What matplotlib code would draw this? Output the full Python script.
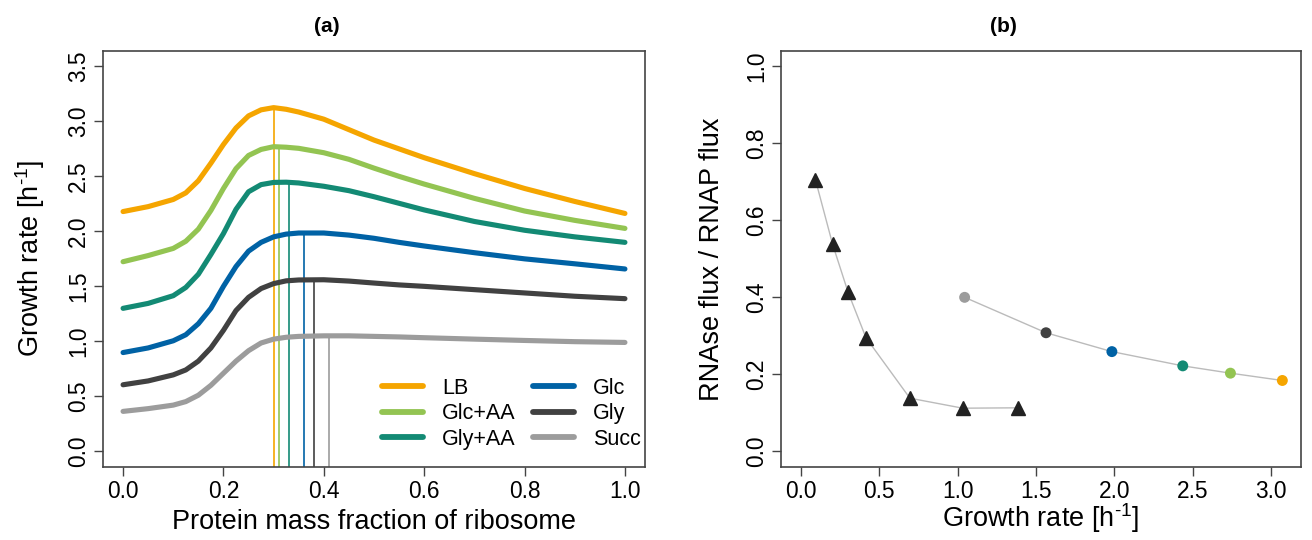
import numpy as np
import matplotlib
matplotlib.use("Agg")
import matplotlib.pyplot as plt
from matplotlib.lines import Line2D

plt.rcParams['font.family'] = ['Liberation Sans', 'DejaVu Sans']

# ---- panel (a): growth rate vs ribosome fraction
phi_r = [0.0, 0.05, 0.1, 0.125, 0.15, 0.175, 0.2, 0.225, 0.25, 0.275, 0.3,
         0.325, 0.35, 0.4, 0.45, 0.5, 0.55, 0.6, 0.7, 0.8, 0.9, 1.0]

media = ["LB", "Glc+AA", "Gly+AA", "Glc", "Gly", "Succ"]
colors = ["#F5A500", "#93C452", "#138A74", "#0062A5", "#414141", "#9C9C9C"]

growth = {
    "LB":     [2.18, 2.225, 2.29, 2.35, 2.46, 2.62, 2.79, 2.94, 3.05, 3.105, 3.125,
               3.11, 3.085, 3.02, 2.925, 2.83, 2.75, 2.67, 2.525, 2.39, 2.272, 2.163],
    "Glc+AA": [1.724, 1.78, 1.845, 1.91, 2.02, 2.19, 2.39, 2.57, 2.69, 2.745, 2.77,
               2.765, 2.755, 2.715, 2.655, 2.575, 2.50, 2.43, 2.30, 2.185, 2.10, 2.027],
    "Gly+AA": [1.30, 1.345, 1.415, 1.49, 1.61, 1.79, 1.98, 2.20, 2.36, 2.425, 2.445,
               2.447, 2.44, 2.41, 2.37, 2.315, 2.255, 2.195, 2.09, 2.01, 1.95, 1.90],
    "Glc":    [0.898, 0.94, 1.005, 1.06, 1.16, 1.30, 1.50, 1.68, 1.82, 1.90, 1.95,
               1.975, 1.985, 1.985, 1.966, 1.937, 1.90, 1.867, 1.806, 1.75, 1.705, 1.658],
    "Gly":    [0.605, 0.64, 0.695, 0.74, 0.82, 0.94, 1.10, 1.28, 1.40, 1.48, 1.525,
               1.55, 1.558, 1.56, 1.548, 1.53, 1.513, 1.50, 1.47, 1.44, 1.41, 1.388],
    "Succ":   [0.363, 0.388, 0.42, 0.452, 0.51, 0.60, 0.71, 0.82, 0.915, 0.985, 1.02,
               1.037, 1.045, 1.05, 1.05, 1.045, 1.04, 1.033, 1.02, 1.008, 0.997, 0.99],
}

# optimal ribosome fraction and the max growth reached there
phi_opt = [0.30, 0.31, 0.33, 0.36, 0.38, 0.41]
mu_max = [3.125, 2.77, 2.447, 1.987, 1.56, 1.05]

# ---- panel (b): RNAse flux / RNAP flux vs growth rate
tri_mu = [0.094, 0.203, 0.302, 0.416, 0.696, 1.033, 1.385]
tri_ratio = [0.705, 0.538, 0.413, 0.295, 0.138, 0.112, 0.113]

circ_mu = [1.045, 1.564, 1.984, 2.436, 2.74, 3.071]
circ_ratio = [0.400, 0.308, 0.259, 0.222, 0.203, 0.184]
circ_colors = ["#9C9C9C", "#414141", "#0062A5", "#138A74", "#93C452", "#F5A500"]

fs_tick = 16.4
fs_lab = 19.5
fs_leg = 15.5
frame_col = "#444444"
unit = "Growth rate [h$^{\\mathregular{\u20101}}$]"

W, H = 1312, 540
fig = plt.figure(figsize=(W / 100, H / 100), dpi=100)
# axes boxes in pixels: left, right, top, bottom
ax1 = fig.add_axes([103 / W, 1 - 466.7 / H, (645 - 103) / W, (466.7 - 51) / H])
ax2 = fig.add_axes([781 / W, 1 - 466.7 / H, (1301 - 781) / W, (466.7 - 51) / H])


def r_style(ax):
    for s in ax.spines.values():
        s.set_color(frame_col)
        s.set_linewidth(1.2)
    ax.tick_params(direction="out", length=6.5, width=1.0, color=frame_col,
                   labelsize=fs_tick, pad=3)
    for lab in ax.get_yticklabels():
        lab.set_rotation(90)
        lab.set_va("center")


# panel (a)
ylo = -0.14
for m, c, po, mm in zip(media, colors, phi_opt, mu_max):
    ax1.plot(phi_r, growth[m], color=c, lw=3.7, solid_capstyle="round",
             solid_joinstyle="round", zorder=3)
    ax1.vlines(po, ylo, mm, color=c, lw=1.2, zorder=2)

ax1.set_xlim(-0.04, 1.04)
ax1.set_ylim(ylo, 3.64)
ax1.set_xticks([0.0, 0.2, 0.4, 0.6, 0.8, 1.0])
ax1.set_xticklabels(["0.0", "0.2", "0.4", "0.6", "0.8", "1.0"])
ax1.set_yticks(np.arange(0, 3.51, 0.5))
ax1.set_yticklabels(["0.0", "0.5", "1.0", "1.5", "2.0", "2.5", "3.0", "3.5"])
r_style(ax1)
ax1.set_xlabel("Protein mass fraction of ribosome", fontsize=fs_lab, va="center")
ax1.xaxis.set_label_coords(0.5, (466.7 - 522) / 415.7)
ax1.set_ylabel(unit, fontsize=fs_lab, va="center")
ax1.yaxis.set_label_coords((30 - 103) / 542, 0.5)

handles = [Line2D([], [], color=c, lw=4.2, solid_capstyle="round") for c in colors]
ax1.legend(handles, media, ncol=2, loc="lower left", frameon=False,
           fontsize=fs_leg, handlelength=1.93, handletextpad=0.86,
           columnspacing=0.8, labelspacing=0.22, borderpad=0, borderaxespad=0,
           bbox_to_anchor=((381.7 - 103) / 542, (466.7 - 450) / 415.7))

# panel (b)
ax2.plot(tri_mu, tri_ratio, color="#BBBBBB", lw=1.0, zorder=1)
ax2.plot(tri_mu, tri_ratio, ls="none", marker="^", ms=9.5, color="#222222", zorder=2)
ax2.plot(circ_mu, circ_ratio, color="#BBBBBB", lw=1.0, zorder=1)
ax2.scatter(circ_mu, circ_ratio, s=62, c=circ_colors, edgecolors="none", zorder=2)

ax2.set_xlim(-0.126, 3.19)
ax2.set_ylim(-0.04, 1.04)
ax2.set_xticks(np.arange(0, 3.01, 0.5))
ax2.set_xticklabels(["0.0", "0.5", "1.0", "1.5", "2.0", "2.5", "3.0"])
ax2.set_yticks(np.arange(0, 1.01, 0.2))
ax2.set_yticklabels(["0.0", "0.2", "0.4", "0.6", "0.8", "1.0"])
r_style(ax2)
ax2.set_xlabel(unit, fontsize=fs_lab, va="center")
ax2.xaxis.set_label_coords(0.5, (466.7 - 518) / 415.7)
ax2.set_ylabel("RNAse flux / RNAP flux", fontsize=fs_lab, va="center")
ax2.yaxis.set_label_coords((712.5 - 781) / 520, 0.5)

fig.text(327 / W, 1 - 27 / H, "(a)", fontsize=15, fontweight="bold",
         ha="center", va="center")
fig.text(1003 / W, 1 - 27 / H, "(b)", fontsize=15, fontweight="bold",
         ha="center", va="center")

fig.savefig("out.png", dpi=100)
